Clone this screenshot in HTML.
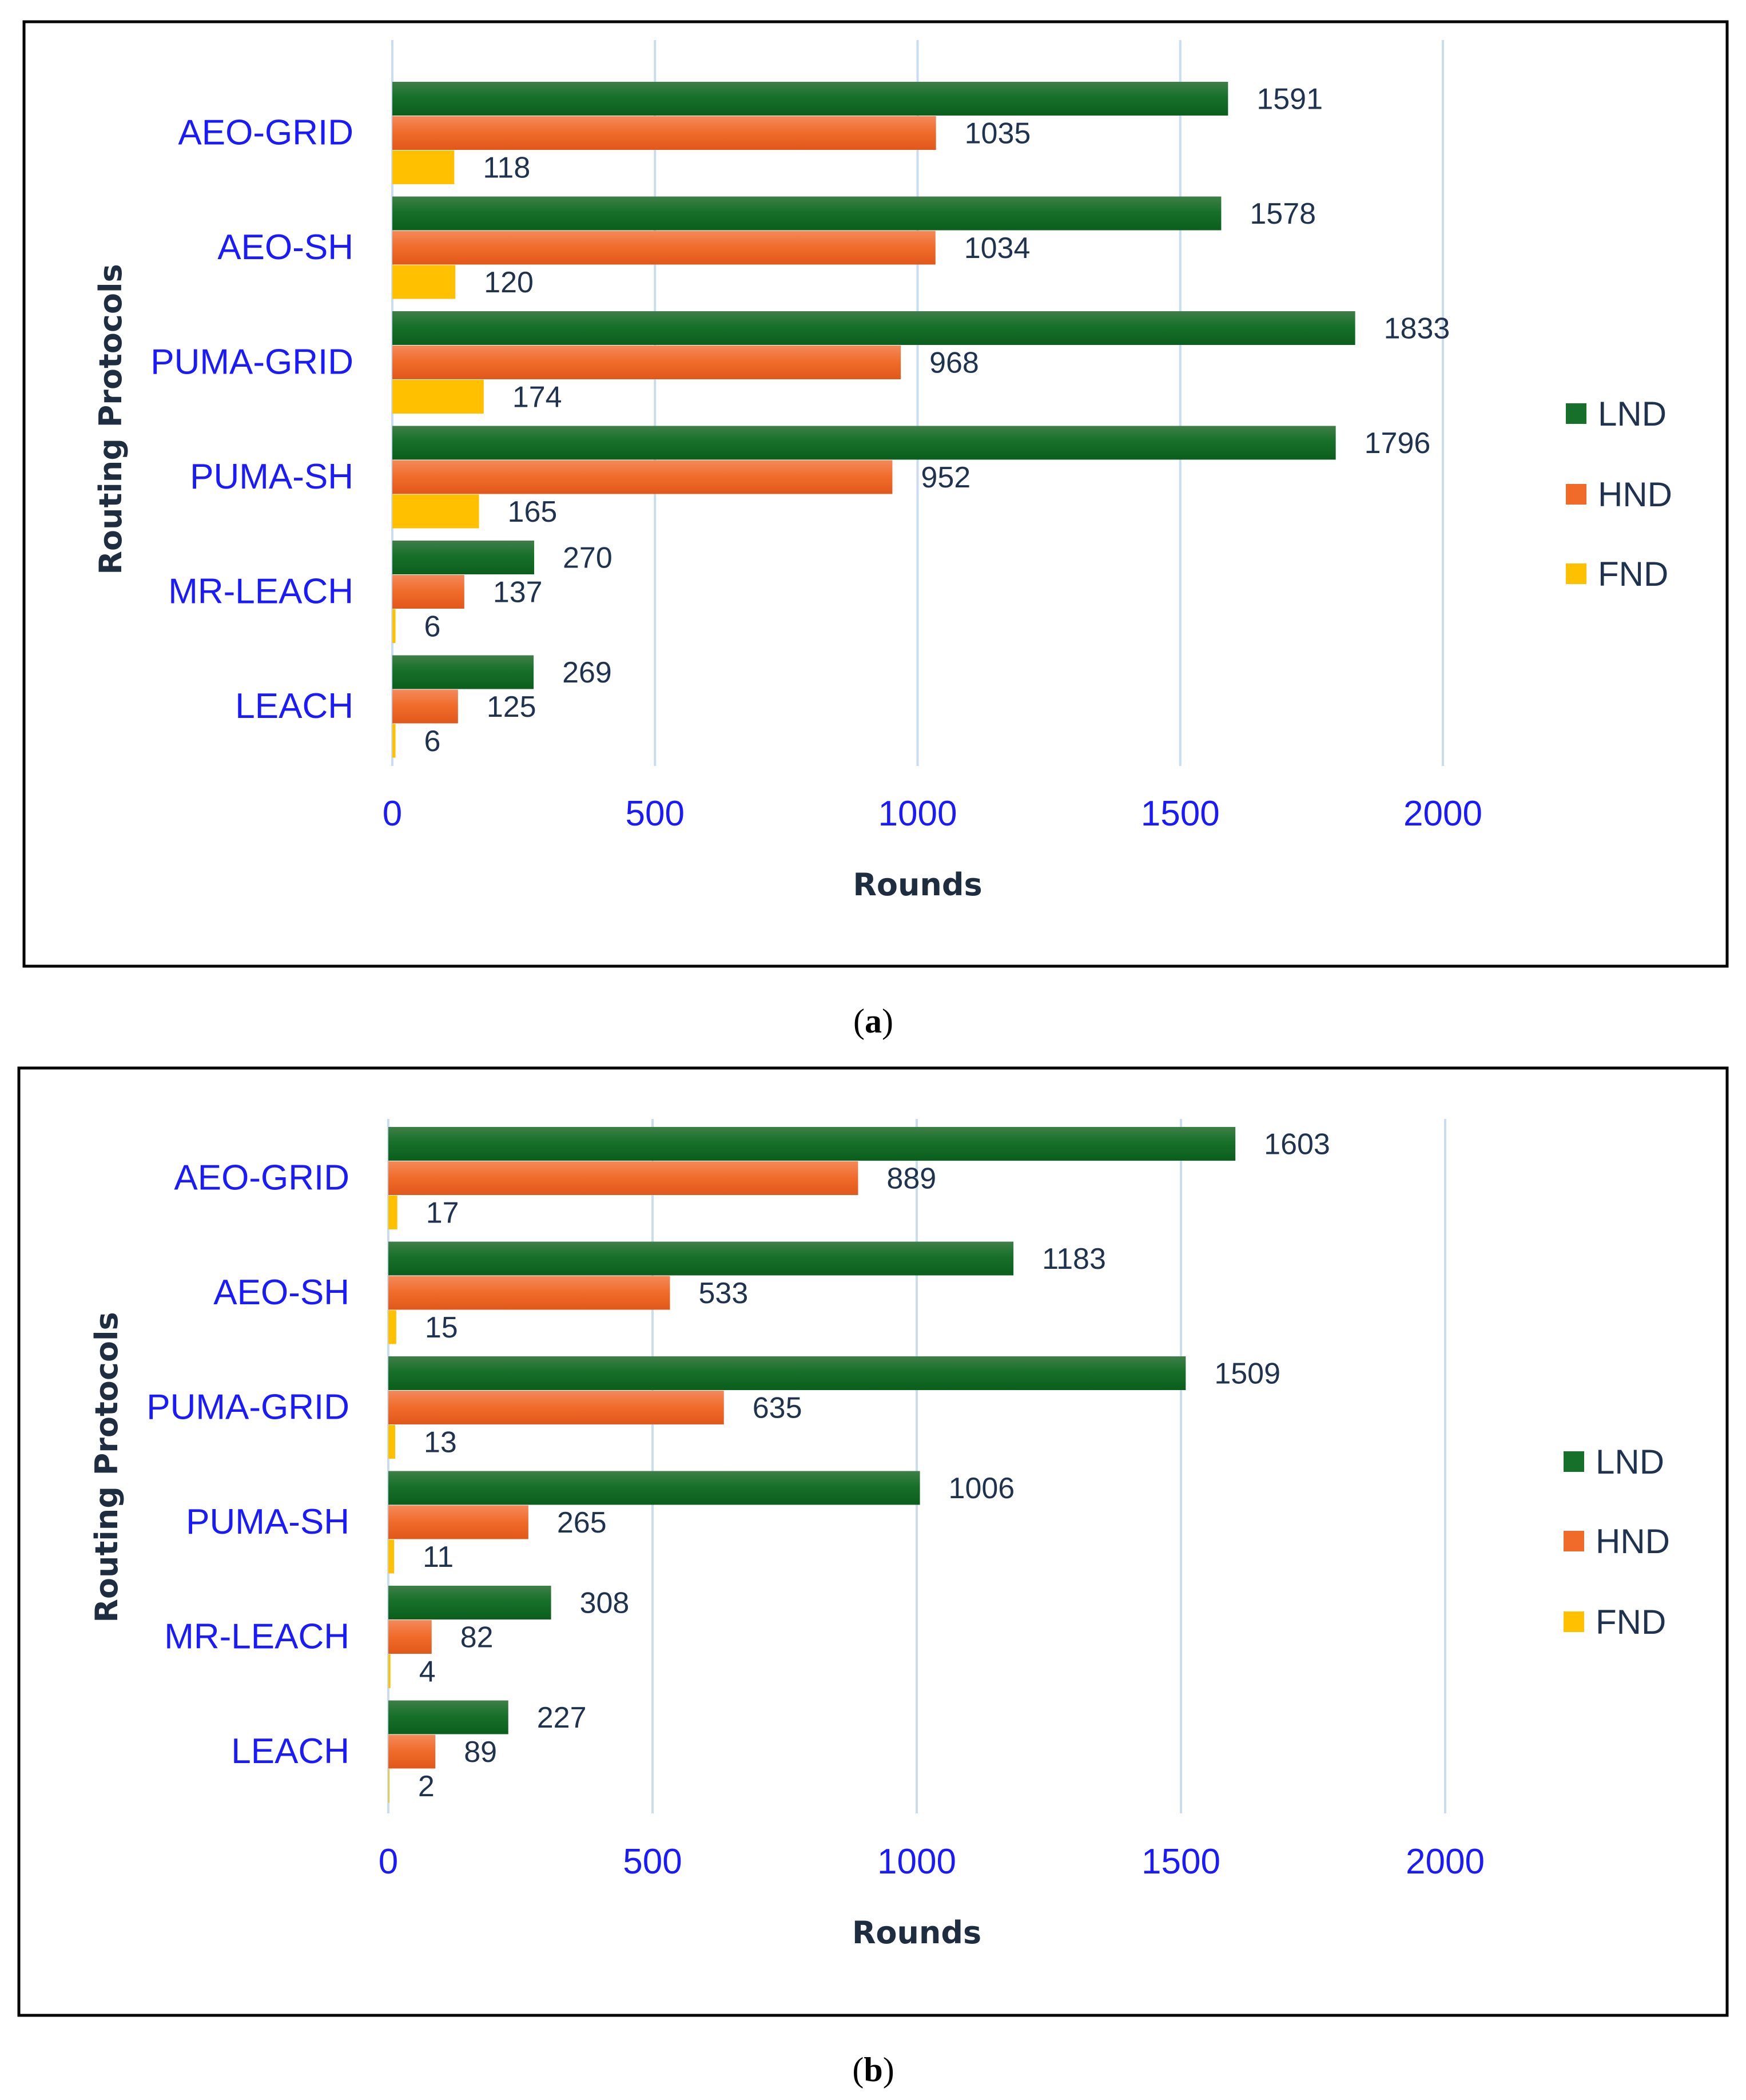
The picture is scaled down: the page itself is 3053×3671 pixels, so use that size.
<!DOCTYPE html>
<html><head><meta charset="utf-8">
<style>
html,body{margin:0;padding:0;background:#fff;}
svg{display:block;}
</style></head>
<body>
<svg id="fig" width="3053" height="3671" viewBox="0 0 3053 3671" xmlns="http://www.w3.org/2000/svg">
<defs>
<linearGradient id="gG" x1="0" y1="0" x2="0" y2="1"><stop offset="0" stop-color="#3f7f48"/><stop offset="0.45" stop-color="#17702a"/><stop offset="1" stop-color="#0b5e1c"/></linearGradient>
<linearGradient id="gO" x1="0" y1="0" x2="0" y2="1"><stop offset="0" stop-color="#f4895a"/><stop offset="0.5" stop-color="#f06b2a"/><stop offset="1" stop-color="#e0581a"/></linearGradient>
</defs>
<rect x="42" y="38" width="2978" height="1651" fill="none" stroke="#000" stroke-width="5"/>
<rect x="33" y="1867" width="2987" height="1656" fill="none" stroke="#000" stroke-width="5"/>
<text x="1527" y="1805" text-anchor="middle" font-family="Liberation Serif, serif" font-size="60">(<tspan font-weight="bold">a</tspan>)</text>
<text x="1527" y="3638" text-anchor="middle" font-family="Liberation Serif, serif" font-size="60">(<tspan font-weight="bold">b</tspan>)</text>
</svg>
<script>
const categories = ["AEO-GRID","AEO-SH","PUMA-GRID","PUMA-SH","MR-LEACH","LEACH"];
const seriesNames = ["LND","HND","FND"];
const lndA = [1591,1578,1833,1796,270,269];
const hndA = [1035,1034,968,952,137,125];
const fndA = [118,120,174,165,6,6];
const lndB = [1603,1183,1509,1006,308,227];
const hndB = [889,533,635,265,82,89];
const fndB = [17,15,13,11,4,2];
const ticks = [0,500,1000,1500,2000];

const svg = document.getElementById('fig');
const NS = 'http://www.w3.org/2000/svg';
function mk(tag, attrs, parent){
  const e = document.createElementNS(NS, tag);
  for (const k in attrs) e.setAttribute(k, attrs[k]);
  (parent||svg).appendChild(e);
  return e;
}
const fills = ['url(#gG)','url(#gO)','#ffc000'];
const legendFills = ['#17702a','#f06b2a','#ffc000'];

function panel(id, P, series){
  const g = mk('g', {});
  
  
  const x = v => P.x0 + (P.x1 - P.x0) * v / 2000;
  ticks.forEach(t => {
    const l = mk('line', {x1:x(t), x2:x(t), y1:P.gTop, y2:P.gBot, stroke:'#c9dcf0', 'stroke-width':4}, g);
    
    
    const tl = mk('text', {x:x(t), y:P.tickY, 'text-anchor':'middle', 'font-family':'Liberation Sans, sans-serif', 'font-size':62, fill:'#1a1aff'}, g);
    tl.textContent = t;
    
    
  });
  const pitch = 200.5, bh = 59;
  categories.forEach((c, i) => {
    const top = P.top + pitch * i;
    const cl = mk('text', {x:P.catX, y:top + 1.5*bh + 21, 'text-anchor':'end', 'font-family':'Liberation Sans, sans-serif', 'font-size':62, fill:'#1a1aff'}, g);
    cl.textContent = c;
    
    
    series.forEach((s, j) => {
      const v = s[i];
      const y = top + j * (bh + 1);
      const r = mk('rect', {x:x(0), y:y, width:Math.max(0, x(v) - x(0)), height:bh, fill:fills[j]}, g);
      
      
      const vl = mk('text', {x:x(v) + 50, y:y + bh/2 + 18, 'font-family':'Liberation Sans, sans-serif', 'font-size':52, fill:'#1f3350'}, g);
      vl.textContent = v;
      
      
    });
  });
  const xt = mk('text', {x:(x(0)+x(2000))/2, y:P.roundsY, 'text-anchor':'middle', 'font-family':'DejaVu Sans, sans-serif', 'font-weight':'bold', 'font-size':54, fill:'#1f2d40'}, g);
  xt.textContent = 'Rounds';
  
  
  const yt = mk('text', {x:0, y:0, transform:'translate(' + P.ytX + ',' + P.ytY + ') rotate(-90)', 'text-anchor':'middle', 'font-family':'DejaVu Sans, sans-serif', 'font-weight':'bold', 'font-size':54, fill:'#1f2d40'}, g);
  yt.textContent = 'Routing Protocols';
  
  
  seriesNames.forEach((n, j) => {
    const ly = P.legY[j];
    const sq = mk('rect', {x:P.legX, y:ly - 18, width:36, height:36, fill:legendFills[j]}, g);
    
    
    const lt = mk('text', {x:P.legX + 56, y:ly + 21, 'font-family':'Liberation Sans, sans-serif', 'font-size':60, fill:'#1f3350'}, g);
    lt.textContent = n;
    
    
  });
}
panel('a', {x0:686, x1:2523, gTop:70, gBot:1339, top:143, catX:618, tickY:1443, roundsY:1565, ytX:212, ytY:733, legX:2738, legY:[723,864,1003]}, [lndA,hndA,fndA]);
panel('b', {x0:679, x1:2527, gTop:1956, gBot:3170, top:1970, catX:611, tickY:3275, roundsY:3397, ytX:205, ytY:2565, legX:2734, legY:[2555,2694,2835]}, [lndB,hndB,fndB]);
</script>
</body></html>
